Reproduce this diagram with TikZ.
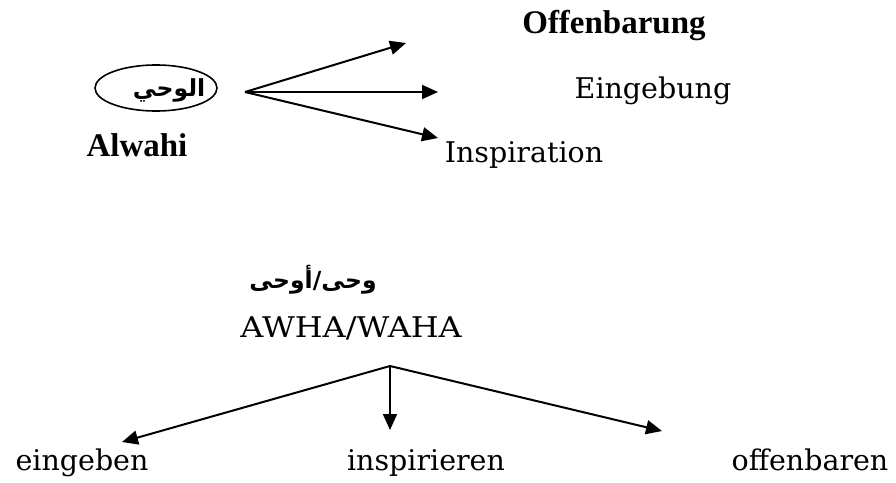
\documentclass[tikz,border=0pt]{standalone}
\usepackage{fontspec}
\setmainfont{DejaVu Serif}
\newfontfamily\tnr{Liberation Serif}
\newfontfamily\arabicfont[Script=Arabic]{DejaVu Sans}
\TeXXeTstate=1
\usetikzlibrary{arrows.meta,shapes.geometric}
\begin{document}
\begin{tikzpicture}[x=1pt,y=-1pt,
  lbl/.style={inner sep=0pt, font=\fontsize{28.5}{30}\selectfont},
  blbl/.style={inner sep=0pt, font=\tnr\bfseries\fontsize{33}{35}\selectfont},
  arab/.style={inner sep=0pt, font=\arabicfont\bfseries\fontsize{23.5}{26}\selectfont},
  arr/.style={line width=2pt, -{Triangle[length=16pt,width=14pt]}}]
\useasboundingbox (0,0) rectangle (896,482);
% top part
\node[draw, ellipse, minimum width=122, minimum height=46, line width=1.6pt] (ell) at (156,88) {};
\node[arab] (alwahiar) at (169,90) {\beginR الوحي\endR};
\node[blbl, anchor=base] (alwahi) at (137,156) {Alwahi};
\coordinate (src) at (245,92);
\coordinate (t1) at (406,43);
\coordinate (t2) at (438,92);
\coordinate (t3) at (438,138);
\draw[arr] (src) -- (t1);
\draw[arr] (src) -- (t2);
\draw[arr] (src) -- (t3);
\node[blbl, anchor=base] (offb) at (614,33) {Offenbarung};
\node[lbl, anchor=base] (eing) at (653,98) {Eingebung};
\node[lbl, anchor=base] (insp) at (524,162) {Inspiration};
% bottom part
\node[arab] (wahaar) at (313,280) {\beginR وحى/أوحى\endR};
\node[lbl, anchor=base] (awha) at (351,337) {\scalebox{1.12}[1]{AWHA/WAHA}};
\coordinate (split) at (390,366);
\coordinate (b1) at (122,442);
\coordinate (b2) at (390,430);
\coordinate (b3) at (662,431);
\draw[arr] (split) -- (b1);
\draw[arr] (split) -- (b2);
\draw[arr] (split) -- (b3);
\node[lbl, anchor=base] (eingeben) at (82,470) {eingeben};
\node[lbl, anchor=base] (inspir) at (426,470) {inspirieren};
\node[lbl, anchor=base] (offenb) at (810,470) {offenbaren};
\end{tikzpicture}
\end{document}
